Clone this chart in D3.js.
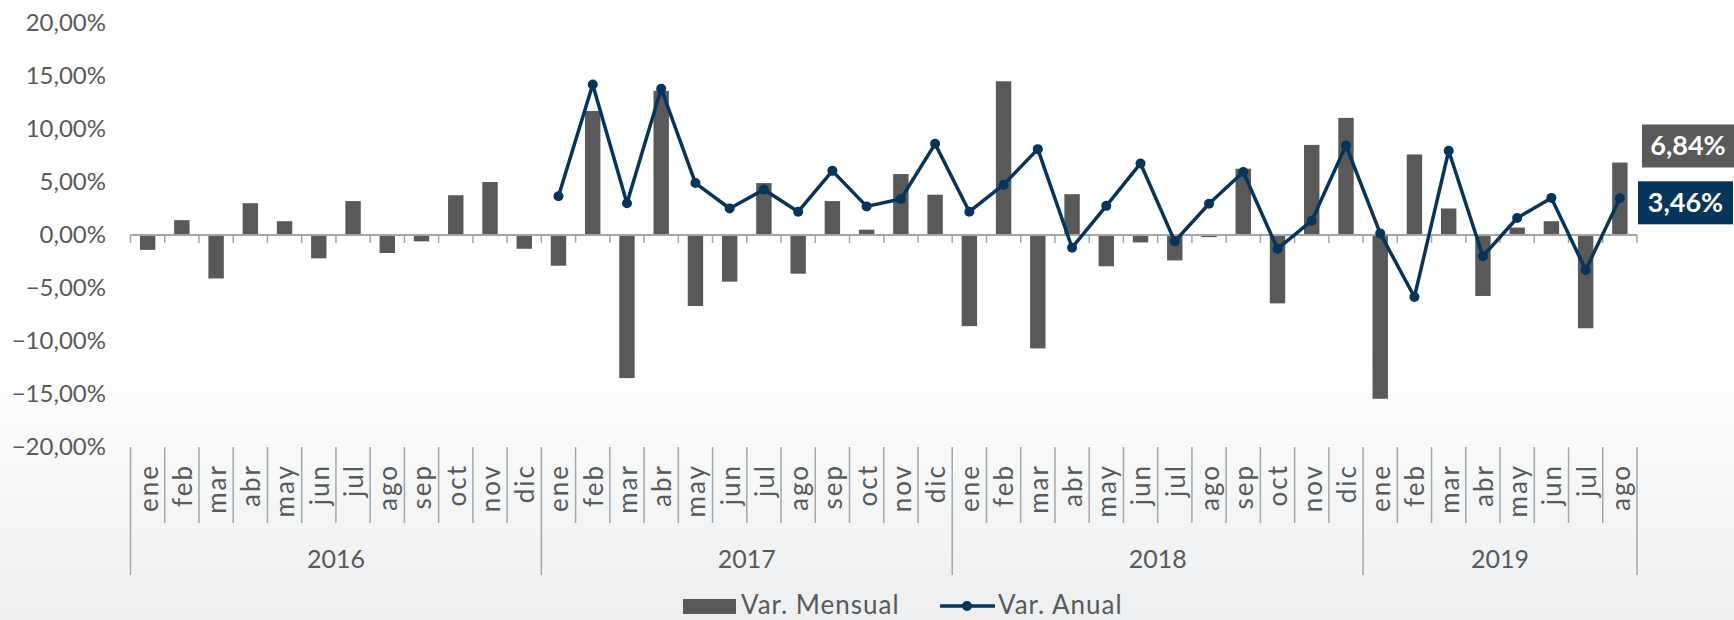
<!DOCTYPE html>
<html>
<head>
<meta charset="utf-8">
<script src="https://cdn.jsdelivr.net/npm/d3@7"></script>
<style>
  body { margin: 0; }
  svg { display: block; font-family: Lato, "DejaVu Sans", sans-serif; }
</style>
</head>
<body>
<script>
// meses y años del eje
var months = ["ene","feb","mar","abr","may","jun","jul","ago","sep","oct","nov","dic"];
var years = ["2016","2017","2018","2019"];
var monthsPerYear = [12, 12, 12, 8];

// Var. Mensual (%)
var varMensual = [
  -1.4, 1.4, -4.1, 3.0, 1.3, -2.2, 3.2, -1.7, -0.6, 3.75, 5.0, -1.3,
  -2.9, 11.7, -13.5, 13.6, -6.7, -4.4, 4.9, -3.65, 3.2, 0.5, 5.75, 3.8,
  -8.6, 14.5, -10.7, 3.85, -2.95, -0.7, -2.4, -0.2, 6.25, -6.45, 8.5, 11.05,
  -15.45, 7.6, 2.5, -5.75, 0.7, 1.3, -8.8, 6.84
];

// Var. Anual (%), sin datos en 2016
var varAnual = [
  null, null, null, null, null, null, null, null, null, null, null, null,
  3.65, 14.2, 3.0, 13.8, 4.9, 2.5, 4.3, 2.2, 6.05, 2.7, 3.4, 8.6,
  2.2, 4.75, 8.1, -1.2, 2.75, 6.75, -0.6, 2.95, 5.95, -1.3, 1.35, 8.45,
  0.15, -5.85, 7.95, -2.0, 1.6, 3.5, -3.3, 3.46
];

var yTicks = [-20, -15, -10, -5, 0, 5, 10, 15, 20];

var width = 1734, height = 620;
var barColor = "#595959", lineColor = "#06345a", axisColor = "#a6a6a6", textColor = "#595959";

var locale = d3.formatLocale({decimal: ",", thousands: ".", grouping: [3], currency: ["", "€"]});
var fmt = locale.format(".2f");

var svg = d3.select("body").append("svg")
    .attr("width", width)
    .attr("height", height);

// fondo claro
var defs = svg.append("defs");
var grad = defs.append("linearGradient").attr("id", "bg")
    .attr("x1", 0).attr("y1", 0).attr("x2", 0).attr("y2", 1);
grad.append("stop").attr("offset", "0%").attr("stop-color", "#ffffff");
grad.append("stop").attr("offset", "55%").attr("stop-color", "#ffffff");
grad.append("stop").attr("offset", "100%").attr("stop-color", "#edeff0");
svg.append("rect").attr("width", width).attr("height", height).attr("fill", "url(#bg)");

// categorias
var cats = [];
years.forEach(function (yr, k) {
  months.slice(0, monthsPerYear[k]).forEach(function (m) { cats.push({month: m, year: yr}); });
});
var n = cats.length;

var x = d3.scaleBand().domain(d3.range(n)).range([130.5, 1637]).padding(0);
var bw = x.bandwidth();
var y = d3.scaleLinear().domain([-20, 20]).range([447, 23]);
var cx = function (i) { return x(i) + bw / 2; };
var edge = function (i) { return i < n ? x(i) : x.range()[1]; };

// eje y
var yAxis = svg.append("g")
    .attr("transform", "translate(106,0)")
    .call(d3.axisLeft(y).tickValues(yTicks).tickSize(0).tickPadding(0)
      .tickFormat(function (d) { return fmt(d) + "%"; }));
yAxis.select(".domain").remove();
yAxis.selectAll("text")
    .attr("fill", textColor)
    .attr("font-size", 24)
    .attr("font-family", "Lato, 'DejaVu Sans', sans-serif");

// barras
var barW = bw * 0.45;
svg.append("g").selectAll("rect")
  .data(varMensual)
  .enter().append("rect")
    .attr("x", function (d, i) { return cx(i) - barW / 2; })
    .attr("y", function (d) { return y(Math.max(0, d)); })
    .attr("width", barW)
    .attr("height", function (d) { return Math.abs(y(d) - y(0)); })
    .attr("fill", barColor);

// linea del cero y marcas
svg.append("line")
    .attr("x1", x.range()[0]).attr("x2", x.range()[1])
    .attr("y1", y(0)).attr("y2", y(0))
    .attr("stroke", axisColor).attr("stroke-width", 2);
svg.append("g").selectAll("line")
  .data(d3.range(n + 1))
  .enter().append("line")
    .attr("x1", edge).attr("x2", edge)
    .attr("y1", y(0)).attr("y2", y(0) + 8)
    .attr("stroke", axisColor).attr("stroke-width", 1.5);

// linea anual
var line = d3.line()
    .defined(function (d) { return d != null; })
    .x(function (d, i) { return cx(i); })
    .y(function (d) { return y(d); });

svg.append("path")
    .attr("d", line(varAnual))
    .attr("fill", "none")
    .attr("stroke", lineColor)
    .attr("stroke-width", 3.5)
    .attr("stroke-linejoin", "round");

svg.append("g").selectAll("circle")
  .data(varAnual.map(function (d, i) { return {v: d, i: i}; }).filter(function (d) { return d.v != null; }))
  .enter().append("circle")
    .attr("cx", function (d) { return cx(d.i); })
    .attr("cy", function (d) { return y(d.v); })
    .attr("r", 5)
    .attr("fill", lineColor);

// separadores del eje de categorias
var yearStarts = [0];
monthsPerYear.forEach(function (c, k) { yearStarts.push(yearStarts[k] + c); });

svg.append("g").selectAll("line")
  .data(d3.range(n + 1))
  .enter().append("line")
    .attr("x1", edge).attr("x2", edge)
    .attr("y1", 447)
    .attr("y2", function (i) { return yearStarts.indexOf(i) >= 0 ? 575 : 523; })
    .attr("stroke", axisColor).attr("stroke-width", 1.5);

// meses
svg.append("g").selectAll("text")
  .data(cats)
  .enter().append("text")
    .attr("transform", function (d, i) { return "translate(" + cx(i) + ",464) rotate(-90)"; })
    .attr("text-anchor", "end")
    .attr("dy", "0.38em")
    .attr("font-size", 26)
    .attr("letter-spacing", 2)
    .attr("fill", textColor)
    .text(function (d) { return d.month; });

// años
svg.append("g").selectAll("text")
  .data(years)
  .enter().append("text")
    .attr("x", function (d, k) { return (edge(yearStarts[k]) + edge(yearStarts[k + 1])) / 2; })
    .attr("y", 568)
    .attr("text-anchor", "middle")
    .attr("font-size", 25)
    .attr("fill", textColor)
    .text(function (d) { return d; });

// etiquetas del ultimo dato
var last = n - 1;
var lab1 = svg.append("g").attr("transform", "translate(1642," + (y(varMensual[last]) - 38) + ")");
lab1.append("rect").attr("width", 92).attr("height", 43).attr("fill", barColor);
lab1.append("text").attr("x", 46).attr("y", 31).attr("text-anchor", "middle")
    .attr("font-size", 27).attr("font-weight", "bold").attr("fill", "#fff")
    .text(fmt(varMensual[last]) + "%");

var lab2 = svg.append("g").attr("transform", "translate(1638," + (y(varAnual[last]) - 17) + ")");
lab2.append("rect").attr("width", 95).attr("height", 43).attr("fill", lineColor);
lab2.append("text").attr("x", 47.5).attr("y", 31).attr("text-anchor", "middle")
    .attr("font-size", 27).attr("font-weight", "bold").attr("fill", "#fff")
    .text(fmt(varAnual[last]) + "%");

// leyenda
var leg = svg.append("g");
leg.append("rect").attr("x", 683).attr("y", 599).attr("width", 53).attr("height", 15).attr("fill", barColor);
leg.append("text").attr("x", 741).attr("y", 614).attr("font-size", 26).attr("letter-spacing", 1)
    .attr("fill", textColor).text("Var. Mensual");
leg.append("line").attr("x1", 940).attr("x2", 995).attr("y1", 606).attr("y2", 606)
    .attr("stroke", lineColor).attr("stroke-width", 3.5);
leg.append("circle").attr("cx", 967).attr("cy", 606).attr("r", 5).attr("fill", lineColor);
leg.append("text").attr("x", 998).attr("y", 614).attr("font-size", 26).attr("letter-spacing", 1)
    .attr("fill", textColor).text("Var. Anual");
</script>
</body>
</html>
